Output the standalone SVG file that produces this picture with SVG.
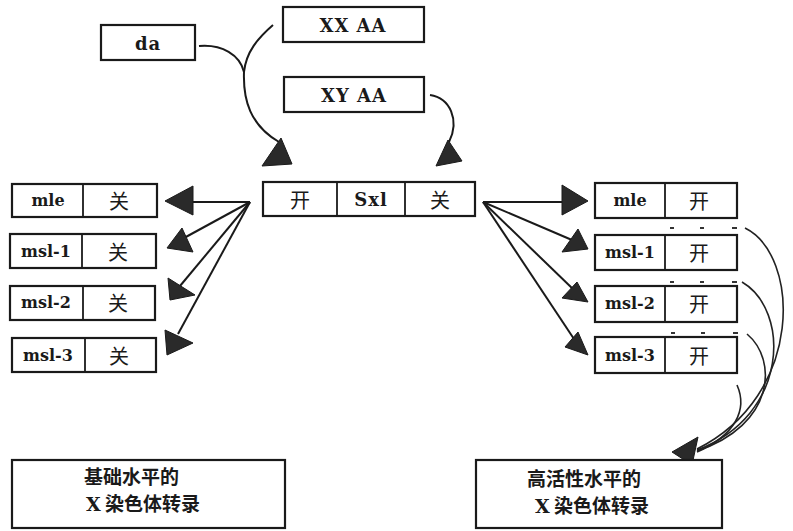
<svg xmlns="http://www.w3.org/2000/svg" width="793" height="531" viewBox="0 0 793 531">
<style>
.box{fill:#fff;stroke:#1a1a1a;stroke-width:2.2}
.div{stroke:#1a1a1a;stroke-width:1.8}
.lat{font-family:"DejaVu Serif","Liberation Serif",serif;font-size:16px;font-weight:bold;fill:#1a1a1a;text-anchor:middle;dominant-baseline:central}
.cjk{font-family:"Noto Sans CJK SC","Noto Sans",sans-serif;font-size:20px;fill:#1a1a1a;text-anchor:middle;dominant-baseline:central}
.big{font-family:"DejaVu Serif","Liberation Serif",serif;font-size:18px;font-weight:bold;fill:#1a1a1a;text-anchor:middle;dominant-baseline:central;letter-spacing:1px}
.bt{font-family:"Noto Sans CJK SC","Noto Sans",sans-serif;font-size:19px;font-weight:bold;fill:#1a1a1a}
.bx{font-family:"DejaVu Serif","Liberation Serif",serif;font-weight:bold}
.ln{fill:none;stroke:#1a1a1a;stroke-width:2}
.thin{fill:none;stroke:#222;stroke-width:1.6}
.head{fill:#2a2a2a;stroke:#1a1a1a;stroke-width:1}
.dash{fill:#333}
</style>
<rect width="793" height="531" fill="#fff"/>

<g id="connectors">
  <path class="ln" d="M199,46 C222,44 240,55 244,72"/>
  <path class="ln" d="M273,25 C258,38 246,52 244,72"/>
  <path class="ln" d="M244,72 C243,100 250,125 279,142"/>
  <path class="ln" d="M430,95 C450,98 460,120 449,142"/>
  <path class="ln" d="M250,202 L192,202"/>
  <path class="ln" d="M250,202 L184,238"/>
  <path class="ln" d="M250,202 L180,286"/>
  <path class="ln" d="M250,202 L178,334"/>
  <path class="ln" d="M483,202 L563,202"/>
  <path class="ln" d="M483,202 L572,240"/>
  <path class="ln" d="M483,202 L574,290"/>
  <path class="ln" d="M483,202 L576,342"/>
  <path class="thin" d="M745,228 C800,255 805,395 697,449"/>
  <path class="thin" d="M742,282 C790,310 790,415 697,450"/>
  <path class="thin" d="M747,334 C778,360 775,425 697,451"/>
  <path class="thin" d="M737,385 C748,410 735,435 697,452"/>
  <polygon class="head" points="281,138 262,166 292,164"/>
  <polygon class="head" points="448,140 436,166 462,161"/>
  <polygon class="head" points="165,201 193,186 193,215"/>
  <polygon class="head" points="167,248 182,228 193,252"/>
  <polygon class="head" points="168,278 195,295 170,300"/>
  <polygon class="head" points="165,330 193,343 167,355"/>
  <polygon class="head" points="562,185 588,201 562,215"/>
  <polygon class="head" points="578,229 562,252 588,249"/>
  <polygon class="head" points="577,282 562,298 588,302"/>
  <polygon class="head" points="578,332 565,347 588,355"/>
  <polygon class="head" points="698,437 672,452 692,465"/>
</g>

<g id="da"><rect class="box" x="101" y="25" width="94" height="35"/><text class="big" x="148" y="43">da</text></g>
<g id="xxaa"><rect class="box" x="283" y="7" width="141" height="35"/><text class="big" x="353" y="25">XX AA</text></g>
<g id="xyaa"><rect class="box" x="284" y="77" width="140" height="35"/><text class="big" x="354" y="95">XY AA</text></g>

<g id="sxl">
  <rect class="box" x="263" y="182" width="212" height="34"/>
  <line class="div" x1="337" y1="182" x2="337" y2="216"/>
  <line class="div" x1="405" y1="182" x2="405" y2="216"/>
  <text class="cjk" x="300" y="199">开</text>
  <text class="big" x="371" y="199">Sxl</text>
  <text class="cjk" x="440" y="199">关</text>
</g>

<g id="left-mle"><rect class="box" x="12" y="184" width="145" height="33"/><line class="div" x1="83" y1="184" x2="83" y2="217"/><text class="lat" x="48" y="200">mle</text><text class="cjk" x="119" y="200">关</text></g>
<g id="left-msl1"><rect class="box" x="10" y="234" width="146" height="34"/><line class="div" x1="82" y1="234" x2="82" y2="268"/><text class="lat" x="46" y="251">msl-1</text><text class="cjk" x="118" y="251">关</text></g>
<g id="left-msl2"><rect class="box" x="10" y="286" width="145" height="34"/><line class="div" x1="83" y1="286" x2="83" y2="320"/><text class="lat" x="46" y="302">msl-2</text><text class="cjk" x="118" y="302">关</text></g>
<g id="left-msl3"><rect class="box" x="12" y="338" width="144" height="34"/><line class="div" x1="85" y1="338" x2="85" y2="372"/><text class="lat" x="48" y="355">msl-3</text><text class="cjk" x="119" y="355">关</text></g>

<g id="right-mle"><rect class="box" x="595" y="183" width="142" height="35"/><line class="div" x1="665" y1="183" x2="665" y2="218"/><text class="lat" x="630" y="200">mle</text><text class="cjk" x="699" y="200">开</text></g>
<g id="right-msl1"><rect class="box" x="595" y="235" width="142" height="35"/><line class="div" x1="665" y1="235" x2="665" y2="270"/><text class="lat" x="630" y="252">msl-1</text><text class="cjk" x="699" y="252">开</text></g>
<g id="right-msl2"><rect class="box" x="595" y="286" width="142" height="36"/><line class="div" x1="665" y1="286" x2="665" y2="322"/><text class="lat" x="630" y="303">msl-2</text><text class="cjk" x="699" y="303">开</text></g>
<g id="right-msl3"><rect class="box" x="595" y="337" width="142" height="36"/><line class="div" x1="665" y1="337" x2="665" y2="373"/><text class="lat" x="630" y="355">msl-3</text><text class="cjk" x="699" y="355">开</text></g>

<g id="marks">
  <rect class="dash" x="670" y="227" width="4" height="2"/><rect class="dash" x="700" y="227" width="4" height="2"/><rect class="dash" x="732" y="227" width="5" height="2"/>
  <rect class="dash" x="670" y="281" width="4" height="2"/><rect class="dash" x="700" y="281" width="4" height="2"/><rect class="dash" x="732" y="281" width="5" height="2"/>
  <rect class="dash" x="671" y="332" width="4" height="2"/><rect class="dash" x="701" y="332" width="4" height="2"/><rect class="dash" x="733" y="332" width="5" height="2"/>
</g>

<g id="basal">
  <rect class="box" x="12" y="460" width="273" height="68"/>
  <text class="bt" x="84" y="484">基础水平的</text>
  <text class="bt" x="86" y="511"><tspan class="bx">X</tspan> 染色体转录</text>
</g>
<g id="high">
  <rect class="box" x="476" y="460" width="246" height="68"/>
  <text class="bt" x="527" y="486">高活性水平的</text>
  <text class="bt" x="535" y="513"><tspan class="bx">X</tspan> 染色体转录</text>
</g>
</svg>
